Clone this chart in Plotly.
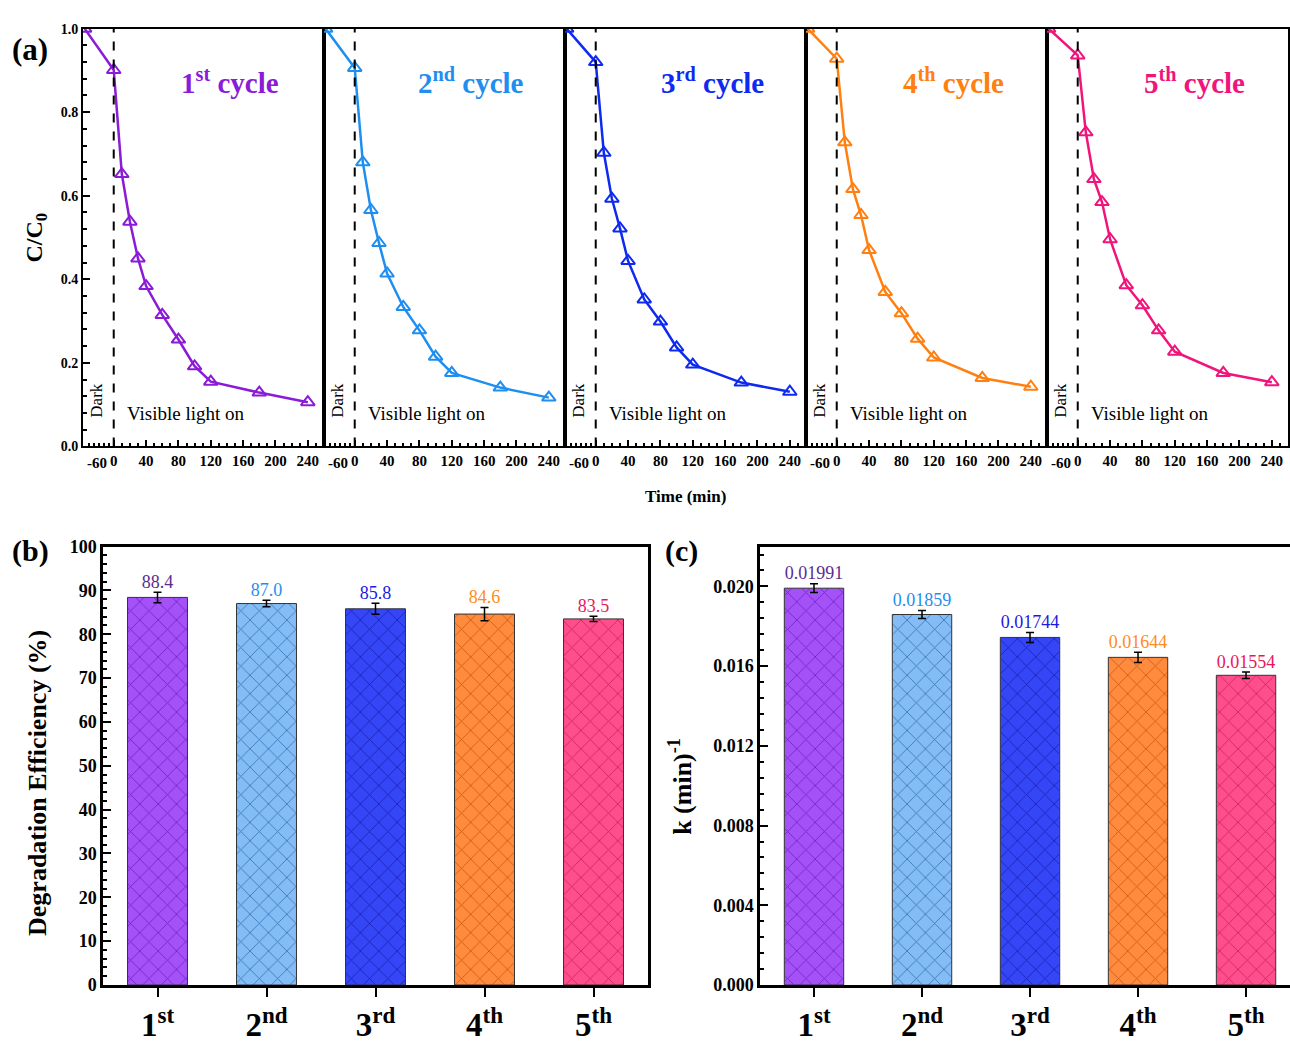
import plotly.graph_objects as go

# ---------------- data ----------------
minutes = [-60, 0, 10, 20, 30, 40, 60, 80, 100, 120, 180, 240]
cycle_1 = [1.0, 0.901, 0.652, 0.538, 0.450, 0.384, 0.315, 0.256, 0.192, 0.155, 0.129, 0.106]
cycle_2 = [1.0, 0.906, 0.680, 0.566, 0.487, 0.414, 0.334, 0.278, 0.215, 0.176, 0.141, 0.117]
cycle_3 = [1.0, 0.920, 0.703, 0.593, 0.522, 0.444, 0.352, 0.299, 0.237, 0.196, 0.153, 0.131]
cycle_4 = [1.0, 0.928, 0.728, 0.616, 0.554, 0.470, 0.370, 0.319, 0.258, 0.213, 0.164, 0.143]
cycle_5 = [1.0, 0.936, 0.752, 0.640, 0.585, 0.496, 0.386, 0.338, 0.278, 0.227, 0.176, 0.154]

cycle_labels = ["1<sup>st</sup>", "2<sup>nd</sup>", "3<sup>rd</sup>", "4<sup>th</sup>", "5<sup>th</sup>"]
time_tick_values = [-60, 0, 40, 80, 120, 160, 200, 240]

efficiency = [88.4, 87.0, 85.8, 84.6, 83.5]
efficiency_err = [1.2, 0.75, 1.25, 1.5, 0.6]
efficiency_text = ["88.4", "87.0", "85.8", "84.6", "83.5"]

rate_k = [0.01991, 0.01859, 0.01744, 0.01644, 0.01554]
rate_k_err = [0.00022, 0.00020, 0.00025, 0.00026, 0.00016]
rate_k_text = ["0.01991", "0.01859", "0.01744", "0.01644", "0.01554"]

# ---------------- styling ----------------
FONT = "Liberation Serif, Times New Roman, serif"
W, H = 1290, 1047
line_colors = ["#8A1BD6", "#1E8FF0", "#0F2AF0", "#FF8010", "#F0147C"]
value_colors = ["#5A2D91", "#1E8FF0", "#1A1AE6", "#FF8C1A", "#E8175D"]
bar_fill = ["#A452F8", "#84BDF6", "#3446F6", "#FF8B3E", "#FF4E8C"]
bar_hatch = ["#7424CC", "#3A78B8", "#1B22B8", "#D25A12", "#D2245E"]

DARK_SCALE = 0.6  # the dark (adsorption) period is drawn compressed


def axis_pos(t):
    return t * DARK_SCALE if t < 0 else t


def pxx(x):
    return x / W


def pxy(y):
    return 1 - y / H


def note(x, y, text, size, bold=True, color="black", angle=0, xref="paper", xanchor="center"):
    return dict(xref=xref, yref="paper", x=x, y=y, text=text, textangle=angle,
                xanchor=xanchor, yanchor="middle", showarrow=False,
                font=dict(family=FONT, size=size, color=color,
                          weight="bold" if bold else "normal"))


fig = go.Figure()

# ---------------- panel (a): five kinetic curves ----------------
a_left, a_width = 83, 241
a_top, a_bottom = 19, 445
series = [cycle_1, cycle_2, cycle_3, cycle_4, cycle_5]
x_pos = [axis_pos(t) for t in minutes]
light_ticks = [t for t in time_tick_values if t >= 0]
dark_ticks = [t for t in time_tick_values if t < 0]
minor_pos = [axis_pos(t) for t in range(-50, 251, 10) if t not in time_tick_values]

annotations = []
shapes = []
for i, vals in enumerate(series):
    n = i + 1
    xa = "x" if n == 1 else f"x{n}"
    ya = "y" if n == 1 else f"y{n}"
    fig.add_trace(go.Scatter(
        x=x_pos, y=vals, mode="lines+markers", xaxis=xa, yaxis=ya,
        line=dict(color=line_colors[i], width=2.5),
        marker=dict(symbol="triangle-up-open", size=12, color=line_colors[i],
                    line=dict(width=2, color=line_colors[i])),
        showlegend=False,
    ))
    left = a_left + i * a_width
    fig.layout[f"xaxis{'' if n == 1 else n}"] = dict(
        domain=[pxx(left), pxx(left + a_width)], anchor=ya, range=[-38, 260],
        tickvals=[axis_pos(t) for t in light_ticks], ticktext=[str(t) for t in light_ticks],
        ticks="inside", ticklen=6, tickwidth=1.5, tickcolor="black",
        minor=dict(tickvals=minor_pos, ticks="inside", ticklen=3, tickwidth=1.5, tickcolor="black"),
        showline=True, linecolor="black", linewidth=2, mirror=True,
        showgrid=False, zeroline=False,
        tickfont=dict(family=FONT, size=15, color="black", weight="bold"),
    )
    fig.layout[f"yaxis{'' if n == 1 else n}"] = dict(
        domain=[pxy(a_bottom), pxy(a_top)], anchor=xa, range=[0, 1.0],
        tickvals=[0, 0.2, 0.4, 0.6, 0.8, 1.0] if n == 1 else [],
        ticktext=["0.0", "0.2", "0.4", "0.6", "0.8", "1.0"] if n == 1 else [],
        ticks="inside" if n == 1 else "", ticklen=7, tickwidth=1.5, tickcolor="black",
        minor=dict(dtick=0.04, ticks="inside" if n == 1 else "", ticklen=4, tickwidth=1.5,
                   tickcolor="black"),
        showline=True, linecolor="black", linewidth=2, mirror=True,
        showgrid=False, zeroline=False,
        tickfont=dict(family=FONT, size=14, color="black", weight="bold"),
    )
    # the dark-period label sits just inside the panel edge so it clears the neighbour's "240"
    for t in dark_ticks:
        annotations.append(dict(
            xref=xa, yref="paper", x=axis_pos(t), y=pxy(462), xanchor="left", yanchor="middle",
            text=str(t), showarrow=False,
            font=dict(family=FONT, size=15, color="black", weight="bold"),
        ))
    # light switched on at t = 0
    shapes.append(dict(type="line", xref=xa, yref=f"{ya} domain", x0=0, x1=0, y0=0, y1=1,
                       line=dict(color="black", width=2, dash="dash")))
    annotations.append(note(0.61, pxy(72), f"{cycle_labels[i]} cycle", 29,
                            color=line_colors[i], xref=f"{xa} domain"))
    annotations.append(note(0.055, pxy(398), "Dark", 17, bold=False, angle=-90,
                            xref=f"{xa} domain"))
    annotations.append(note(0.175, pxy(411), "Visible light on", 19, bold=False,
                            xref=f"{xa} domain", xanchor="left"))

annotations += [
    note(pxx(30), pxy(40), "(a)", 31),
    note(pxx(36), pxy(232), "C/C<sub>0</sub>", 24, angle=-90),
    note(pxx(685), pxy(496), "Time (min)", 17),
]

# ---------------- panels (b) and (c): bar charts ----------------
def add_bars(values, errors, texts, xa, ya):
    for i, cat in enumerate(cycle_labels):
        fig.add_trace(go.Bar(
            x=[cat], y=[values[i]], xaxis=xa, yaxis=ya, width=0.55,
            marker=dict(color=bar_fill[i], line=dict(color="#333333", width=1),
                        pattern=dict(shape="x", size=13, solidity=0.13, fgcolor=bar_hatch[i],
                                     fgopacity=1, fillmode="overlay")),
            error_y=dict(type="data", array=[errors[i]], color="black", thickness=1.5, width=4),
            showlegend=False,
        ))
    fig.add_trace(go.Scatter(
        x=cycle_labels, y=[v + e for v, e in zip(values, errors)], xaxis=xa, yaxis=ya,
        mode="text", text=texts, textposition="top center", cliponaxis=False,
        textfont=dict(family=FONT, size=18, color=value_colors), showlegend=False,
    ))


add_bars(efficiency, efficiency_err, efficiency_text, "x6", "y6")
add_bars(rate_k, rate_k_err, rate_k_text, "x7", "y7")

bar_x_axis = dict(
    type="category", categoryorder="array", categoryarray=cycle_labels,
    ticks="outside", ticklen=9, tickwidth=2, tickcolor="black",
    showline=True, linecolor="black", linewidth=2.5, mirror=True, showgrid=False, zeroline=False,
    tickfont=dict(family=FONT, size=33, color="black", weight="bold"),
)
bar_y_axis = dict(
    ticks="inside", ticklen=8, tickwidth=2, tickcolor="black",
    showline=True, linecolor="black", linewidth=2.5, showgrid=False, zeroline=False,
    tickfont=dict(family=FONT, size=18, color="black", weight="bold"),
)
b_top, b_bottom = 547, 994
fig.layout.xaxis6 = dict(domain=[pxx(103), pxx(648)], anchor="y6", range=[-0.5, 4.5], **bar_x_axis)
fig.layout.yaxis6 = dict(domain=[pxy(b_bottom), pxy(b_top)], anchor="x6", range=[0, 100], dtick=10,
                         mirror=True,
                         minor=dict(dtick=2, ticks="inside", ticklen=4, tickwidth=2, tickcolor="black"),
                         **bar_y_axis)
fig.layout.xaxis7 = dict(domain=[pxx(760), 1.0], anchor="y7", range=[-0.5, 4.407], **bar_x_axis)
fig.layout.yaxis7 = dict(domain=[pxy(b_bottom), pxy(b_top)], anchor="x7", range=[0, 0.022],
                         tickvals=[0, 0.004, 0.008, 0.012, 0.016, 0.020],
                         ticktext=["0.000", "0.004", "0.008", "0.012", "0.016", "0.020"],
                         mirror=False,
                         minor=dict(dtick=0.0008, ticks="inside", ticklen=4, tickwidth=2,
                                    tickcolor="black"),
                         **bar_y_axis)

annotations += [
    note(pxx(30), pxy(552), "(b)", 30),
    note(pxx(681), pxy(552), "(c)", 30),
    note(pxx(38), pxy(788), "Degradation Efficiency (%)", 26, angle=-90),
    note(pxx(681), pxy(792), "k (min)<sup>-1</sup>", 26, angle=-90),
]

fig.update_layout(
    width=W, height=H, margin=dict(l=0, r=0, t=0, b=0),
    paper_bgcolor="white", plot_bgcolor="white", barmode="overlay",
    annotations=annotations, shapes=shapes,
    font=dict(family=FONT, color="black"),
)

fig.write_html("out.html")
